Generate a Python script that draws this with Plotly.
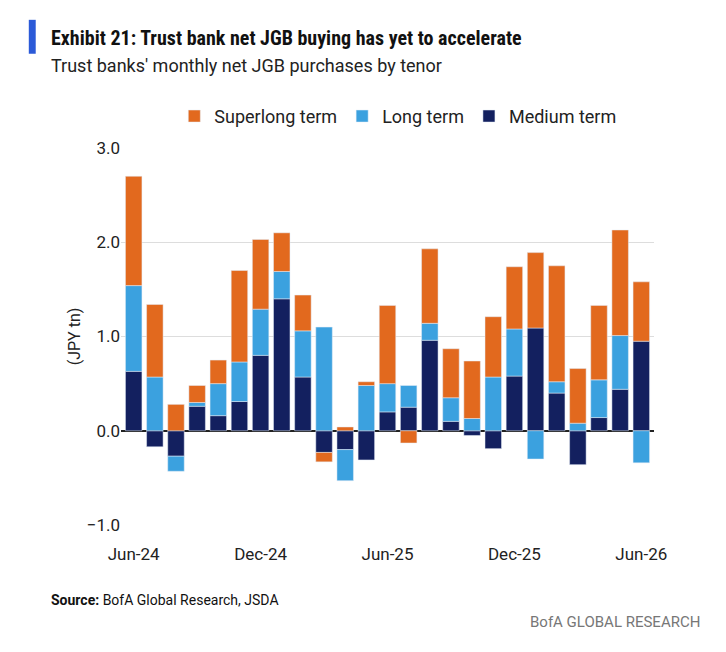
import plotly.graph_objects as go

months = ["2024-06", "2024-07", "2024-08", "2024-09", "2024-10", "2024-11", "2024-12",
          "2025-01", "2025-02", "2025-03", "2025-04", "2025-05", "2025-06", "2025-07",
          "2025-08", "2025-09", "2025-10", "2025-11", "2025-12", "2026-01", "2026-02",
          "2026-03", "2026-04", "2026-05", "2026-06"]
medium = [0.63, -0.17, -0.27, 0.26, 0.16, 0.31, 0.80, 1.40, 0.57, -0.23, -0.20, -0.31, 0.20,
          0.25, 0.96, 0.10, -0.05, -0.19, 0.58, 1.09, 0.40, -0.36, 0.14, 0.44, 0.95]
long_ = [0.91, 0.57, -0.16, 0.04, 0.34, 0.42, 0.49, 0.29, 0.49, 1.10, -0.33, 0.48, 0.30,
         0.23, 0.18, 0.25, 0.13, 0.57, 0.50, -0.30, 0.12, 0.08, 0.40, 0.57, -0.34]
superlong = [1.16, 0.77, 0.28, 0.18, 0.25, 0.97, 0.74, 0.41, 0.38, -0.10, 0.04, 0.04, 0.83,
             -0.13, 0.79, 0.52, 0.61, 0.64, 0.66, 0.80, 1.23, 0.58, 0.79, 1.12, 0.63]
tick_vals = ["2024-06", "2024-12", "2025-06", "2025-12", "2026-06"]
tick_text = ["Jun-24", "Dec-24", "Jun-25", "Dec-25", "Jun-26"]

fig = go.Figure()
fig.add_trace(go.Bar(x=months, y=medium, name="Medium term", marker_color="#13205F"))
fig.add_trace(go.Bar(x=months, y=long_, name="Long term", marker_color="#3BA1DF"))
fig.add_trace(go.Bar(x=months, y=superlong, name="Superlong term", marker_color="#E2691E"))

fig.update_layout(
    width=726, height=652, barmode="relative", bargap=0.22,
    plot_bgcolor="white", paper_bgcolor="white",
    font=dict(family="Roboto", size=17, color="#222"),
    margin=dict(l=113, r=80, t=140, b=135, autoexpand=False),
    legend=dict(orientation="h", x=0.1, y=1.084, xanchor="left", yanchor="middle",
                traceorder="reversed", font=dict(size=18)),
    xaxis=dict(type="category", tickvals=[months.index(t) for t in tick_vals], ticktext=tick_text,
               tickmode="array", showgrid=False, ticks="outside", ticklen=14, tickcolor="rgba(0,0,0,0)",
               range=[-0.6, 24.6], automargin=False),
    yaxis=dict(range=[-1.0, 3.0], dtick=1.0, tickformat=".1f", gridcolor="#dddddd",
               zeroline=True, zerolinecolor="#222", zerolinewidth=1.5, automargin=False,
               title=dict(text="(JPY tn)", standoff=2, font=dict(size=16)), ticks=""),
    shapes=[dict(type="rect", xref="paper", yref="paper", x0=-0.173, x1=-0.16, y0=1.25, y1=1.34,
                 fillcolor="#2B5AD8", line_width=0)],
    annotations=[
        dict(text="<b>Exhibit 21: Trust bank net JGB buying has yet to accelerate</b>",
             xref="paper", yref="paper", x=-0.135, y=1.292, xanchor="left", yanchor="middle",
             showarrow=False, font=dict(size=20, family="Roboto Condensed, Roboto", color="#111")),
        dict(text="Trust banks' monthly net JGB purchases by tenor",
             xref="paper", yref="paper", x=-0.135, y=1.22, xanchor="left", yanchor="middle",
             showarrow=False, font=dict(size=18, color="#222")),
        dict(text="<b>Source:</b> BofA Global Research, JSDA",
             xref="paper", yref="paper", x=-0.135, y=-0.199, xanchor="left", yanchor="middle",
             showarrow=False, font=dict(size=14, color="#111")),
        dict(text="BofA GLOBAL RESEARCH", xref="paper", yref="paper", x=1.09, y=-0.257,
             xanchor="right", yanchor="middle", showarrow=False, font=dict(size=15, color="#777")),
    ],
)
fig.write_html("out.html")
